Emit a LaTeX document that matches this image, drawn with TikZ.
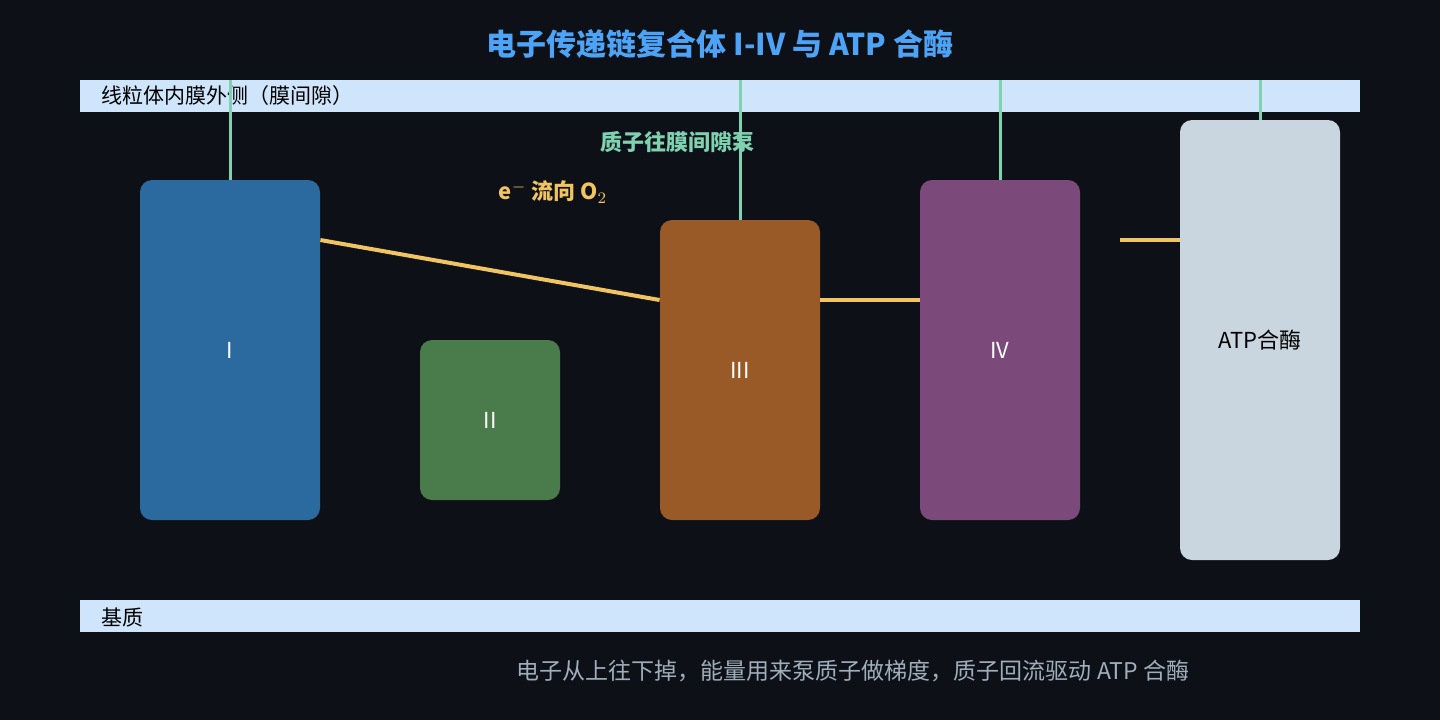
\documentclass[tikz,border=0pt]{standalone}
\usepackage{fontspec}
\setmainfont{Noto Sans CJK SC}
\begin{document}
\begin{tikzpicture}[x=0.5pt,y=-0.5pt,
  box/.style={rounded corners=6pt,inner sep=0pt,font=\fontsize{11}{13}\selectfont},
  band/.style={fill=bandc,inner sep=0pt},
  pump/.style={draw=grn,line width=1.5pt},
  flow/.style={draw=yel,line width=2pt}]
\definecolor{bg}{HTML}{0D1017}\definecolor{bandc}{HTML}{CFE5FB}
\definecolor{c1}{HTML}{2A6A9E}\definecolor{c2}{HTML}{4A7B4A}\definecolor{c3}{HTML}{9A5A28}
\definecolor{c4}{HTML}{7B4A7B}\definecolor{c5}{HTML}{C9D6DF}
\definecolor{grn}{HTML}{7FD1B0}\definecolor{yel}{HTML}{F0C463}
\definecolor{ttl}{HTML}{4DA3F5}\definecolor{cap}{HTML}{A0AEBB}
\fill[bg] (0,0) rectangle (1440,720);
\useasboundingbox (0,0) rectangle (1440,720);
\node[font=\fontsize{15}{18}\selectfont\bfseries,text=ttl] (title) at (720,44) {电子传递链复合体 I-IV 与 ATP 合酶};
\fill[bandc] (80,80) rectangle (1360,112);
\node[anchor=west,font=\fontsize{10.5}{12}\selectfont] (outer) at (94,96) {线粒体内膜外侧（膜间隙）};
\fill[bandc] (80,600) rectangle (1360,632);
\node[anchor=west,font=\fontsize{10.5}{12}\selectfont] (mat) at (94,617) {基质};
\coordinate (t1) at (230,80);\coordinate (t3) at (740,80);\coordinate (t4) at (1000,80);\coordinate (t5) at (1260,80);
\coordinate (y0) at (1120,240);
\node[box,fill=c1,text=white,minimum width=90pt,minimum height=170pt] (I) at (230,350) {I};
\node[box,fill=c2,text=white,minimum width=70pt,minimum height=80pt] (II) at (490,420) {II};
\node[box,fill=c3,text=white,minimum width=80pt,minimum height=150pt] (III) at (740,370) {III};
\node[box,fill=c4,text=white,minimum width=80pt,minimum height=170pt] (IV) at (1000,350) {IV};
\node[box,fill=c5,text=black,minimum width=80pt,minimum height=220pt] (ATP) at (1260,340) {ATP合酶};
\draw[pump] (t1) -- (I.north);
\draw[pump] (t3) -- (III.north);
\draw[pump] (t4) -- (IV.north);
\draw[pump] (t5) -- (ATP.north);
\draw[flow] (I.east |- 0,240) -- (III.west |- 0,300);
\draw[flow] (III.east |- 0,300) -- (IV.west |- 0,300);
\draw[flow] (y0) -- (ATP.west |- y0);
\node[font=\fontsize{11}{13}\selectfont\bfseries,text=grn] (pl) at (677,142) {质子往膜间隙泵};
\node[font=\fontsize{11}{13}\selectfont\bfseries,text=yel] (el) at (553,192) {e$^-$ 流向 O$_2$};
\node[font=\fontsize{11.5}{14}\selectfont,text=cap] (caption) at (853,671) {电子从上往下掉，能量用来泵质子做梯度，质子回流驱动 ATP 合酶};
\end{tikzpicture}
\end{document}
